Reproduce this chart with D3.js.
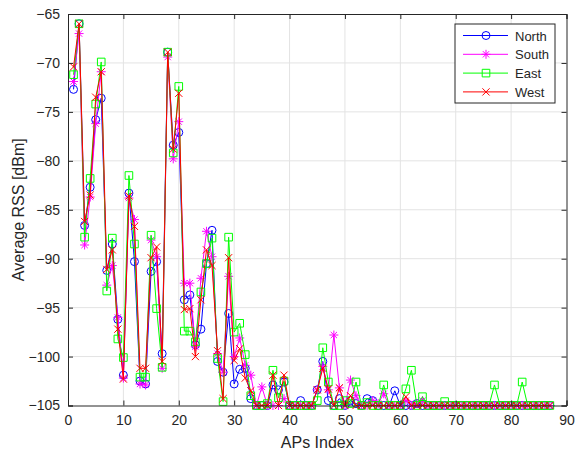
<!DOCTYPE html>
<html>
<head>
<meta charset="utf-8">
<script src="https://cdnjs.cloudflare.com/ajax/libs/d3/7.8.5/d3.min.js"></script>
<style>
  body { margin: 0; background: #fff; }
  text { font-family: "Liberation Sans", Arial, Helvetica, sans-serif; fill: #262626; }
</style>
</head>
<body>
<div id="graph"></div>
<script>
/* values, one entry per AP (index 1..87) */
const north = [
  -72.7, -66.0, -86.6, -82.7, -75.8, -73.6, -91.2, -88.5, -96.2, -101.9,
  -83.3, -90.3, -102.5, -102.8, -91.3, -90.3, -99.7, -68.9, -78.4, -77.1,
  -94.2, -93.7, -98.8, -97.2, -90.5, -87.1, -100.5, -101.6, -95.6, -102.8,
  -101.3, -101.2, -104.3, -105, -105, -105, -102.9, -103.4, -102.6, -105,
  -105, -104.5, -105, -105, -103.4, -100.5, -104.5, -105, -104.3, -105,
  -104.5, -104.8, -105, -104.3, -104.5, -105, -105, -105, -103.5, -105,
  -105, -105, -104.8, -105, -105, -105, -105, -105, -105, -105,
  -105, -105, -105, -105, -105, -105, -105, -105, -105, -105,
  -105, -105, -105, -105, -105, -105, -105
];
const south = [
  -71.9, -67.0, -88.6, -83.7, -76.2, -70.9, -92.7, -90.7, -96.0, -102.2,
  -83.8, -86.0, -102.8, -102.9, -88.1, -89.8, -101.2, -69.4, -79.8, -76.0,
  -92.5, -92.5, -99.0, -92.0, -87.2, -89.8, -99.7, -101.6, -91.8, -100.0,
  -98.1, -100.9, -101.9, -105, -103.1, -105, -105, -105, -104.3, -105,
  -105, -105, -105, -105, -103.4, -101.0, -103.4, -97.8, -103.2, -105,
  -102.4, -104.0, -105, -105, -104.5, -104.8, -103.8, -105, -105, -105,
  -104.5, -105, -104.8, -104.5, -105, -105, -105, -105, -105, -105,
  -105, -105, -105, -105, -105, -105, -105, -105, -105, -105,
  -105, -105, -105, -105, -105, -105, -105
];
const east = [
  -71.2, -66.0, -87.8, -81.8, -74.2, -69.9, -93.3, -87.9, -98.2, -100.1,
  -81.5, -88.5, -102.1, -102.1, -87.6, -95.1, -101.1, -68.9, -79.2, -72.4,
  -97.4, -97.4, -98.5, -93.4, -90.5, -87.9, -100.2, -104.6, -87.8, -97.5,
  -96.6, -99.8, -104.0, -105, -105, -104.8, -101.4, -104.2, -102.5, -105,
  -105, -105, -105, -105, -104.5, -99.1, -102.6, -105, -105, -104.5,
  -104.8, -102.6, -105, -104.7, -105, -105, -102.9, -105, -105, -105,
  -103.3, -101.4, -105, -104.1, -105, -105, -105, -104.6, -105, -105,
  -105, -105, -105, -105, -105, -105, -102.9, -105, -105, -105,
  -105, -102.6, -105, -105, -105, -105, -105
];
const west = [
  -70.4, -66.0, -86.2, -83.5, -73.5, -70.9, -91.1, -89.1, -97.2, -102.3,
  -83.6, -86.7, -101.2, -101.2, -89.9, -88.8, -100.5, -68.9, -78.8, -73.1,
  -95.2, -95.1, -100.0, -94.2, -89.1, -90.7, -99.4, -104.3, -89.9, -100.4,
  -99.2, -102.2, -103.5, -105, -105, -105, -101.9, -105, -101.9, -105,
  -105, -105, -105, -105, -103.4, -101.2, -103.3, -105, -103.2, -105,
  -104.0, -105, -105, -105, -105, -105, -105, -105, -105, -105,
  -104.1, -105, -105, -105, -105, -105, -105, -105, -105, -105,
  -105, -105, -105, -105, -105, -105, -105, -105, -105, -105,
  -105, -105, -105, -105, -105, -105, -105
];

const seriesNames = ["North", "South", "East", "West"];
const seriesColors = ["#0000ff", "#ff00ff", "#00ff00", "#ff0000"];
const seriesMarkers = ["circle", "asterisk", "square", "cross"];
const xTicks = [0, 10, 20, 30, 40, 50, 60, 70, 80, 90];
const yTicks = [-105, -100, -95, -90, -85, -80, -75, -70, -65];

//---------------------------------
/* layout constants */
const w = 575;
const h = 457;
const plotLeft = 68;
const plotRight = 566.5;
const plotTop = 14;
const plotBottom = 405.5;
const axisColor = "#262626";
const gridColor = "#e3e3e3";

const dataset = [north, south, east, west].map(function(vals, i) {
  return {
    name: seriesNames[i],
    color: seriesColors[i],
    marker: seriesMarkers[i],
    points: vals.map((v, j) => ({ ap: j + 1, rss: v }))
  };
});

//---------------------------------
/* scales */
const xScale = d3.scaleLinear().domain([0, 90]).range([plotLeft, plotRight]);
const yScale = d3.scaleLinear().domain([-105, -65]).range([plotBottom, plotTop]);

const svg = d3.select("#graph")
  .append("svg")
  .attr("width", w)
  .attr("height", h);

svg.append("rect").attr("width", w).attr("height", h).attr("fill", "#fff");

//---------------------------------
/* grid */
svg.append("g")
  .selectAll("line")
  .data(xTicks.slice(1, -1)).enter()
  .append("line")
  .attr("x1", d => xScale(d)).attr("x2", d => xScale(d))
  .attr("y1", plotTop).attr("y2", plotBottom)
  .attr("stroke", gridColor).attr("stroke-width", 1);

svg.append("g")
  .selectAll("line")
  .data(yTicks.slice(1, -1)).enter()
  .append("line")
  .attr("y1", d => yScale(d)).attr("y2", d => yScale(d))
  .attr("x1", plotLeft).attr("x2", plotRight)
  .attr("stroke", gridColor).attr("stroke-width", 1);

//---------------------------------
/* markers */
function markerPath(type, s) {
  if (type === "asterisk") {
    const d = s * 0.7;
    return `M${-s},0L${s},0M0,${-s}L0,${s}M${-d},${-d}L${d},${d}M${-d},${d}L${d},${-d}`;
  }
  if (type === "cross") {
    return `M${-s},${-s}L${s},${s}M${-s},${s}L${s},${-s}`;
  }
  if (type === "square") {
    return `M${-s},${-s}H${s}V${s}H${-s}Z`;
  }
  return `M${s},0A${s},${s} 0 1,1 ${-s},0A${s},${s} 0 1,1 ${s},0Z`;
}
const markerSize = { circle: 4, asterisk: 4.5, square: 3.8, cross: 3.6 };

const line = d3.line()
  .x(d => xScale(d.ap))
  .y(d => yScale(d.rss));

const plot = svg.append("g");

dataset.forEach(function(s) {
  const g = plot.append("g");
  g.append("path")
    .attr("d", line(s.points))
    .attr("fill", "none")
    .attr("stroke", s.color)
    .attr("stroke-width", 1);
  g.selectAll("path.m")
    .data(s.points).enter()
    .append("path")
    .attr("class", "m")
    .attr("transform", d => `translate(${xScale(d.ap)},${yScale(d.rss)})`)
    .attr("d", markerPath(s.marker, markerSize[s.marker]))
    .attr("fill", "none")
    .attr("stroke", s.color)
    .attr("stroke-width", 1);
});

//--------------------------------
/* axes (matlab style, ticks inside, box on) */
const xAxis = d3.axisBottom(xScale).tickValues(xTicks).tickSize(-5).tickPadding(10);
svg.append("g")
  .attr("transform", `translate(0, ${plotBottom})`)
  .call(xAxis)
  .call(g => g.selectAll("text").attr("font-size", 14).attr("fill", axisColor));

const yAxis = d3.axisLeft(yScale).tickValues(yTicks).tickSize(-5).tickPadding(8);
svg.append("g")
  .attr("transform", `translate(${plotLeft}, 0)`)
  .call(yAxis)
  .call(g => g.selectAll("text").attr("font-size", 14).attr("fill", axisColor));

svg.append("g")
  .attr("transform", `translate(0, ${plotTop})`)
  .call(d3.axisTop(xScale).tickValues(xTicks).tickSize(-5).tickFormat(""));
svg.append("g")
  .attr("transform", `translate(${plotRight}, 0)`)
  .call(d3.axisRight(yScale).tickValues(yTicks).tickSize(-5).tickFormat(""));

svg.selectAll(".domain, .tick line")
  .attr("stroke", axisColor);

svg.append("text")
  .attr("x", (plotLeft + plotRight) / 2)
  .attr("y", 448)
  .attr("text-anchor", "middle")
  .attr("font-size", 16)
  .text("APs Index");

svg.append("text")
  .attr("transform", `translate(24, ${(plotTop + plotBottom) / 2}) rotate(-90)`)
  .attr("text-anchor", "middle")
  .attr("font-size", 16)
  .text("Average RSS [dBm]");

//--------------------------------
/* legend */
const legend = svg.append("g").attr("transform", "translate(455, 24)");
legend.append("rect")
  .attr("width", 100).attr("height", 79)
  .attr("fill", "#fff")
  .attr("stroke", axisColor).attr("stroke-width", 1);

const items = legend.selectAll("g.item")
  .data(dataset).enter()
  .append("g")
  .attr("class", "item")
  .attr("transform", (d, i) => `translate(0, ${11.5 + i * 18.8})`);
items.append("line")
  .attr("x1", 8).attr("x2", 53)
  .attr("stroke", d => d.color).attr("stroke-width", 1);
items.append("path")
  .attr("transform", "translate(31,0)")
  .attr("d", d => markerPath(d.marker, markerSize[d.marker]))
  .attr("fill", "none")
  .attr("stroke", d => d.color);
items.append("text")
  .attr("x", 60).attr("y", 5)
  .attr("font-size", 13)
  .text(d => d.name);
</script>
</body>
</html>
